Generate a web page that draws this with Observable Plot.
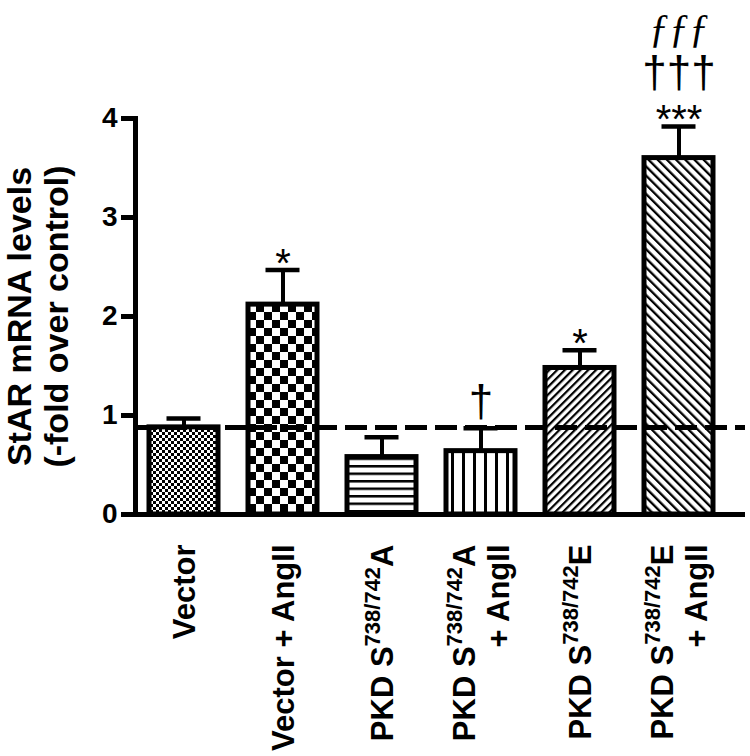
<!DOCTYPE html>
<html>
<head>
<meta charset="utf-8">
<script src="https://cdn.jsdelivr.net/npm/d3@7"></script>
<script src="https://cdn.jsdelivr.net/npm/@observablehq/plot@0.6"></script>
<style>
  html, body { margin: 0; padding: 0; background: #fff; }
  svg { display: block; }
</style>
</head>
<body>
<div id="chart"></div>
<script>
// ---- data ----
const categories = ["Vector", "Vector + AngII", "PKD S738/742A", "PKD S738/742A + AngII", "PKD S738/742E", "PKD S738/742E + AngII"];
const tickLabels = ["Vector", "Vector + AngII", "PKD S^738/742A", "PKD S^738/742A\n+ AngII", "PKD S^738/742E", "PKD S^738/742E\n+ AngII"];
const means = [0.88, 2.12, 0.58, 0.64, 1.48, 3.60];
const sems = [0.09, 0.35, 0.20, 0.23, 0.18, 0.32];
const starLabels = ["", "*", "", "", "*", "***"];
const daggerLabels = ["", "", "", "\u2020", "", "\u2020\u2020\u2020"];
const fLabels = ["", "", "", "", "", "\u0192\u0192\u0192"];
const controlLevel = [0.88];
const yTicks = [0, 1, 2, 3, 4];
const yLabel = "StAR mRNA levels\n(-fold over control)";

// ---- styles ----
const patternFills = ["url(#pFineChecker)", "url(#pCoarseChecker)", "url(#pHoriz)", "url(#pVert)", "url(#pDiagUp)", "url(#pDiagDown)"];

const rows = categories.map((c, i) => ({
  cat: c, mean: means[i], upper: means[i] + sems[i],
  star: starLabels[i], dagger: daggerLabels[i], f: fLabels[i],
  tick: tickLabels[i], fill: patternFills[i]
}));

const chart = Plot.plot({
  width: 750,
  height: 756,
  marginLeft: 135,
  marginRight: 5,
  marginTop: 118,
  marginBottom: 242,
  style: { fontFamily: "'Liberation Sans', Arial, sans-serif", background: "white", color: "black" },
  x: { domain: categories, paddingInner: 0.3, paddingOuter: 0.2, align: 0.3, axis: null },
  y: { domain: [0, 4] },
  color: { type: "identity" },
  marks: [
    Plot.barY(rows, { x: "cat", y: "mean", fill: "fill", stroke: "black", strokeWidth: 5 }),
    Plot.ruleX(rows, { x: "cat", y1: "mean", y2: "upper", stroke: "black", strokeWidth: 4 }),
    Plot.tickY(rows, { x: "cat", y: "upper", stroke: "black", strokeWidth: 4.5, insetLeft: 17.5, insetRight: 17.5 }),
    Plot.ruleY(controlLevel, { stroke: "black", strokeWidth: 5, strokeDasharray: "22,8" }),
    Plot.ruleY([0], { stroke: "black", strokeWidth: 5 }),
    Plot.frame({ anchor: "left", stroke: "black", strokeWidth: 5 }),
    Plot.axisY({ ticks: yTicks, tickFormat: "d", tickSize: 14, tickPadding: 4, fontSize: 28, fontWeight: "bold", strokeWidth: 5, label: null }),
    Plot.text([yLabel], { frameAnchor: "left", rotate: -90, dx: -68, textAnchor: "middle", lineAnchor: "bottom", lineHeight: 1.07, fontSize: 34, fontWeight: "bold", fill: "black" }),
    Plot.text(rows, { x: "cat", text: "tick", frameAnchor: "bottom", dy: 30, rotate: -90, textAnchor: "end", lineAnchor: "middle", lineHeight: 1.1, fontSize: 31, fontWeight: "bold", fill: "black" }),
    Plot.text(rows, { filter: d => d.star, x: "cat", y: "upper", text: "star", lineAnchor: "middle", dy: -6, fontSize: 40, fill: "black" }),
    Plot.text(rows, { filter: d => d.dagger && !d.star, x: "cat", y: "upper", text: "dagger", lineAnchor: "middle", dy: -26, fontSize: 44, fill: "black" }),
    Plot.text(rows, { filter: d => d.dagger && d.star, x: "cat", y: "upper", text: "dagger", lineAnchor: "middle", dy: -54, fontSize: 44, fill: "black" }),
    Plot.text(rows, { filter: d => d.f, x: "cat", y: "upper", text: "f", lineAnchor: "middle", dy: -98, fontSize: 40, fontStyle: "italic", fontFamily: "'Liberation Serif', 'Times New Roman', serif", fill: "black" })
  ]
});

// pattern definitions
const defs = d3.select(chart).insert("defs", ":first-child");
defs.html(`
  <pattern id="pFineChecker" patternUnits="userSpaceOnUse" width="6" height="6">
    <rect width="6" height="6" fill="white"/><rect width="3" height="3" fill="black"/><rect x="3" y="3" width="3" height="3" fill="black"/>
  </pattern>
  <pattern id="pCoarseChecker" patternUnits="userSpaceOnUse" width="16" height="16">
    <rect width="16" height="16" fill="white"/><rect width="8" height="8" fill="black"/><rect x="8" y="8" width="8" height="8" fill="black"/>
  </pattern>
  <pattern id="pHoriz" patternUnits="userSpaceOnUse" width="8" height="7.5">
    <rect width="8" height="7.5" fill="white"/><rect width="8" height="2.5" fill="black"/>
  </pattern>
  <pattern id="pVert" patternUnits="userSpaceOnUse" width="11" height="8">
    <rect width="11" height="8" fill="white"/><rect width="3" height="8" fill="black"/>
  </pattern>
  <pattern id="pDiagUp" patternUnits="userSpaceOnUse" width="5.5" height="5.5" patternTransform="rotate(45)">
    <rect width="5.5" height="5.5" fill="white"/><rect width="2.2" height="5.5" fill="black"/>
  </pattern>
  <pattern id="pDiagDown" patternUnits="userSpaceOnUse" width="6.5" height="6.5" patternTransform="rotate(-45)">
    <rect width="6.5" height="6.5" fill="white"/><rect width="2.3" height="6.5" fill="black"/>
  </pattern>
`);

// superscripts in tick labels ("^738/742")
const SVGNS = "http://www.w3.org/2000/svg";
chart.querySelectorAll("text").forEach(t => {
  const spans = t.querySelectorAll("tspan");
  const targets = spans.length ? Array.from(spans) : [t];
  targets.forEach(el => {
    const s = el.textContent;
    const m = s.match(/^(.*?)\^(\d+\/\d+)(.*)$/);
    if (!m) return;
    el.textContent = "";
    el.appendChild(document.createTextNode(m[1]));
    const sup = document.createElementNS(SVGNS, "tspan");
    sup.setAttribute("font-size", "22");
    sup.setAttribute("baseline-shift", "13");
    sup.textContent = m[2];
    el.appendChild(sup);
    const rest = document.createElementNS(SVGNS, "tspan");
    rest.textContent = m[3];
    el.appendChild(rest);
  });
});

document.getElementById("chart").appendChild(chart);
</script>
</body>
</html>
